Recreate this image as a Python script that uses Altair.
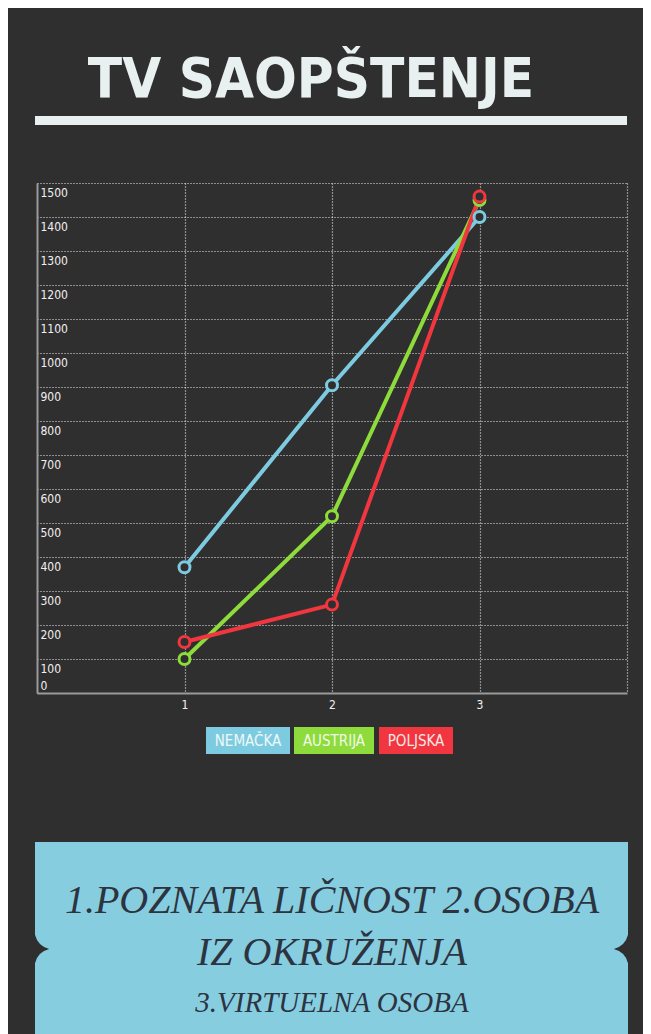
import altair as alt
import pandas as pd

# ---------------- data ----------------
SERIES = ["NEMAČKA", "AUSTRIJA", "POLJSKA"]
COLORS = ["#7dcbe0", "#8edc3c", "#f1363f"]
X_VALUES = [1, 2, 3]
NEMACKA = [370, 905, 1400]
AUSTRIJA = [100, 520, 1450]
POLJSKA = [150, 260, 1460]
Y_TICKS = list(range(0, 1501, 100))
X_GRID = [1, 2, 3, 4]
TITLE = "TV SAOPŠTENJE"
BOX_LINES = ["1.POZNATA LIČNOST 2.OSOBA", "IZ OKRUŽENJA", "3.VIRTUELNA OSOBA"]

rows = []
for name, vals in zip(SERIES, [NEMACKA, AUSTRIJA, POLJSKA]):
    for x, v in zip(X_VALUES, vals):
        rows.append({"series": name, "x": x, "value": v})
df = pd.DataFrame(rows)

# ---------------- layout ----------------
W, H = 590, 510
PAD_L, PAD_T, PAD_R = 29, 175, 16
TOTAL_H = 1026
PAD_B = TOTAL_H - PAD_T - H

BG = "#302f2f"
LIGHT = "#e8f0f0"
NARROW = "Liberation Sans Narrow, DejaVu Sans Condensed, sans-serif"
one = alt.Data(values=[{"k": 0}])

color_scale = alt.Scale(domain=SERIES, range=COLORS)

x_enc = alt.X(
    "x:Q",
    scale=alt.Scale(domain=[0, 4], nice=False, zero=False),
    axis=alt.Axis(
        values=X_GRID, format="d",
        labelExpr="datum.value == 4 ? '' : datum.label",
        grid=True, gridDash=[1, 2], gridColor="#eeeeee", gridWidth=1.2, gridOpacity=1,
        ticks=False, domain=True, domainColor="#9a9a9a", domainWidth=2,
        labelPadding=6, labelColor="#f0f0f0", labelFont="DejaVu Sans Condensed",
        labelFontSize=12, title=None,
    ),
)
y_enc = alt.Y(
    "value:Q",
    scale=alt.Scale(domain=[0, 1500], nice=False),
    axis=alt.Axis(
        values=Y_TICKS, format="d",
        grid=True, gridDash=[1, 2], gridColor="#eeeeee", gridWidth=1.2, gridOpacity=1,
        ticks=False, domain=True, domainColor="#9a9a9a", domainWidth=2,
        labelAlign="left", labelPadding=-3,
        labelBaseline={"condition": {"test": "datum.value === 0", "value": "bottom"}, "value": "top"},
        labelOffset={"condition": {"test": "datum.value === 0", "value": -1}, "value": 4},
        labelOverlap=False, labelBound=False,
        labelColor="#f0f0f0", labelFont="DejaVu Sans Condensed", labelFontSize=12,
        title=None,
    ),
)
c_enc = alt.Color("series:N", scale=color_scale, legend=None)

lines = alt.Chart(df).mark_line(strokeWidth=4).encode(x=x_enc, y=y_enc, color=c_enc)
points = alt.Chart(df).mark_point(
    shape="circle", filled=False, fill=BG, fillOpacity=1, opacity=1,
    size=120, strokeWidth=3,
).encode(x=x_enc, y=y_enc, color=c_enc)

layers = [lines, points]

# title and rule under it
layers.append(
    alt.Chart(one).mark_text(
        font=NARROW, fontSize=56, fontWeight="bold", color=LIGHT,
        align="center", baseline="alphabetic",
    ).encode(x=alt.value(274), y=alt.value(-86), text=alt.value(TITLE))
)
layers.append(
    alt.Chart(one).mark_rect(color=LIGHT).encode(
        x=alt.value(-2), x2=alt.value(590), y=alt.value(-67), y2=alt.value(-58)
    )
)

# legend boxes
LEGEND_BOXES = [(169, 253), (257, 337), (342, 416)]
for name, col, (x0, x1) in zip(SERIES, COLORS, LEGEND_BOXES):
    layers.append(
        alt.Chart(one).mark_rect(color=col).encode(
            x=alt.value(x0), x2=alt.value(x1), y=alt.value(544), y2=alt.value(571)
        )
    )
    layers.append(
        alt.Chart(one).mark_text(
            font="DejaVu Sans Condensed", fontSize=15, color="#ffffff", opacity=0.88,
            align="center", baseline="middle",
        ).encode(x=alt.value((x0 + x1) / 2), y=alt.value(558), text=alt.value(name))
    )

# bottom ticket box
layers.append(
    alt.Chart(one).mark_rect(color="#87cde0").encode(
        x=alt.value(-2), x2=alt.value(591), y=alt.value(659), y2=alt.value(851)
    )
)
NOTCH = "M0,-1 Q0.2,-0.2 1,0 Q0.2,0.2 0,1 Q-0.2,0.2 -1,0 Q-0.2,-0.2 0,-1 Z"
for nx in (-2, 591):
    layers.append(
        alt.Chart(one).mark_point(
            shape=NOTCH, filled=True, fill=BG, fillOpacity=1, opacity=1, size=800, strokeWidth=0
        ).encode(x=alt.value(nx), y=alt.value(766))
    )
for txt, yy, fs in zip(BOX_LINES, [730, 782, 829], [40, 40, 29]):
    layers.append(
        alt.Chart(one).mark_text(
            font="Liberation Serif", fontStyle="italic", fontSize=fs, color="#2c3440",
            align="center", baseline="alphabetic",
        ).encode(x=alt.value(295), y=alt.value(yy), text=alt.value(txt))
    )

chart = alt.layer(*layers).properties(
    width=W, height=H,
    autosize=alt.AutoSizeParams(type="none"),
    padding={"left": PAD_L, "top": PAD_T, "right": PAD_R, "bottom": PAD_B},
    background=BG,
).configure_view(strokeWidth=0)

chart.save("out.html", embed_options={"renderer": "svg", "actions": False})
